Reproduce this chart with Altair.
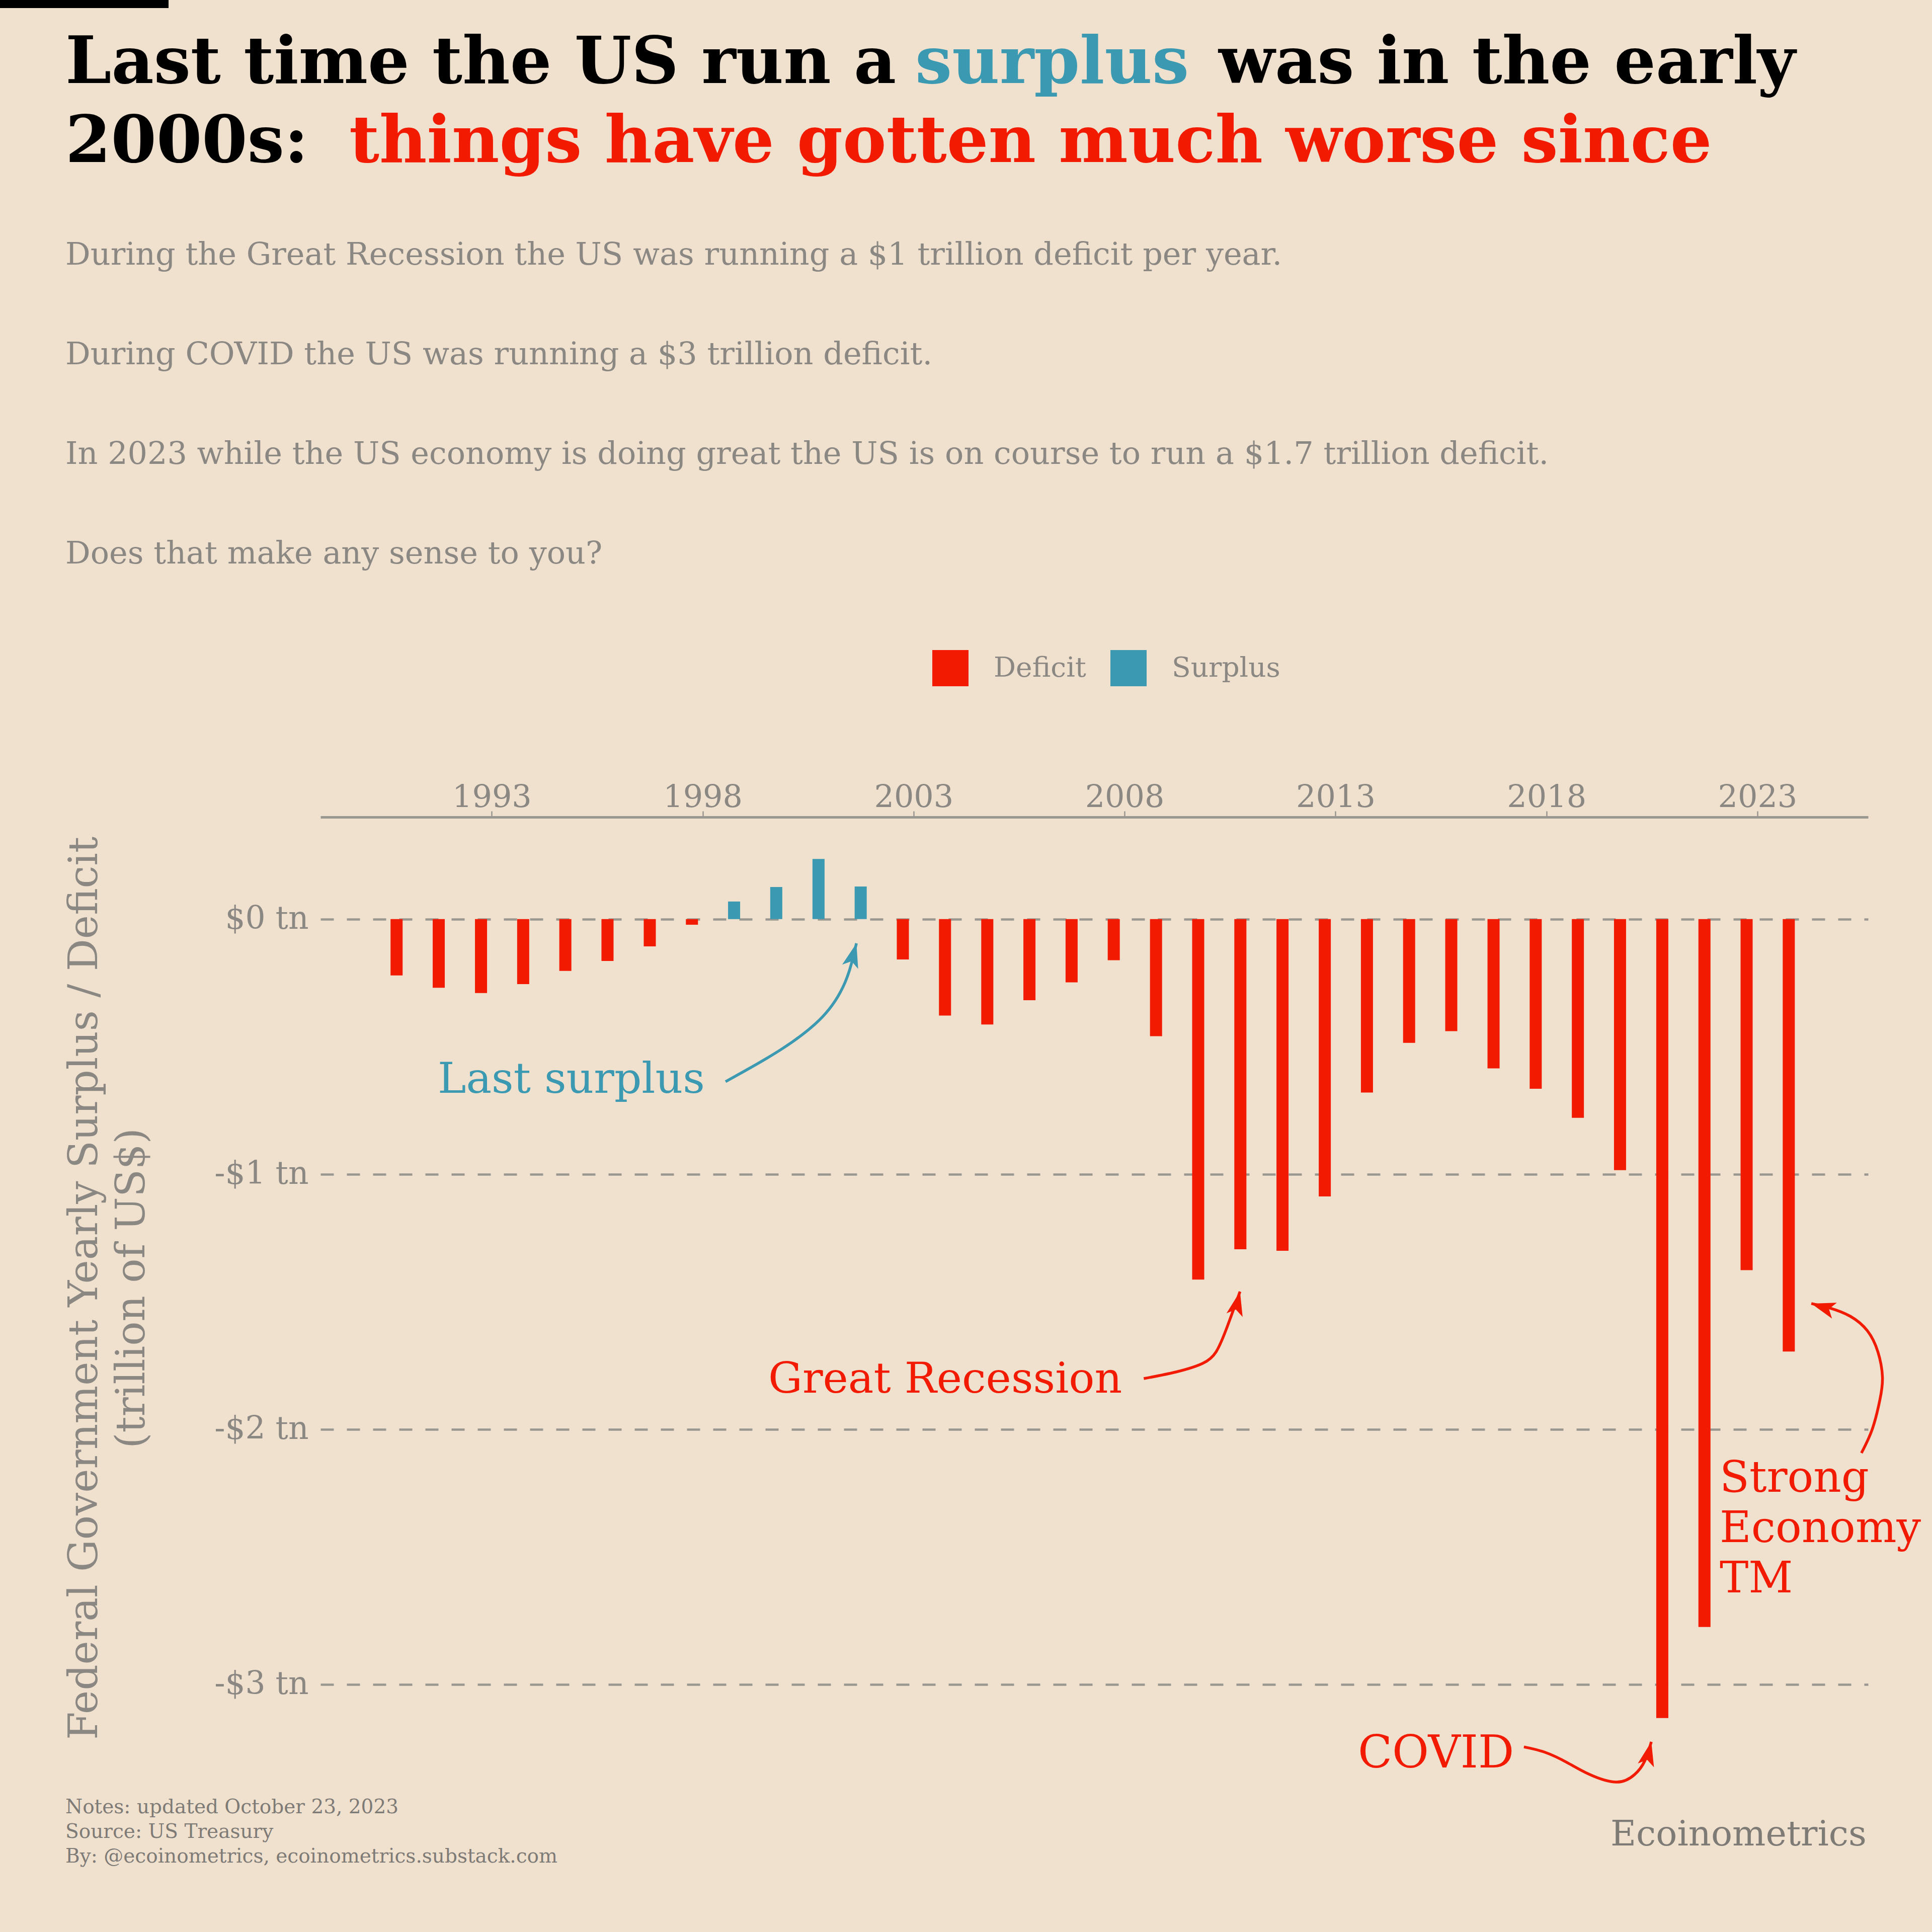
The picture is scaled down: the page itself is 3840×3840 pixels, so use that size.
import altair as alt
import pandas as pd

# ---------------- data ----------------
fiscal_years = list(range(1990, 2024))
balance_tn = [-0.221, -0.269, -0.290, -0.255, -0.203, -0.164, -0.107, -0.022,
              0.069, 0.126, 0.236, 0.128, -0.158, -0.378, -0.413, -0.318,
              -0.248, -0.161, -0.459, -1.413, -1.294, -1.300, -1.087, -0.680,
              -0.485, -0.439, -0.585, -0.665, -0.779, -0.984, -3.132, -2.775,
              -1.376, -1.695]
categories = ["Deficit", "Surplus"]
tick_years = [1993, 1998, 2003, 2008, 2013, 2018, 2023]
y_ticks = [0, -1, -2, -3]

# annotation arrows (control points in data space: date, trillion US$)
arrow_surplus_dates = ["1998-07-18", "2001-03-21", "2001-08-24"]
arrow_surplus_values = [-0.637, -0.391, -0.095]
arrow_recession_dates = ["2008-06-16", "2009-03-16", "2009-11-06", "2010-03-03", "2010-05-29", "2010-09-27"]
arrow_recession_values = [-1.801, -1.776, -1.742, -1.697, -1.610, -1.460]
arrow_covid_dates = ["2017-06-20", "2017-12-19", "2018-07-02", "2019-01-09", "2019-08-31",
                     "2020-02-04", "2020-05-01", "2020-06-27"]
arrow_covid_values = [-3.245, -3.266, -3.307, -3.353, -3.383, -3.353, -3.300, -3.225]
arrow_strong_dates = ["2025-06-20", "2025-09-23", "2025-11-27", "2025-12-19", "2025-11-10",
                      "2025-08-11", "2025-03-16", "2024-09-23", "2024-04-12"]
arrow_strong_values = [-2.093, -1.998, -1.884, -1.795, -1.697, -1.614, -1.557, -1.525, -1.507]

title_l1 = ["Last time the US run a", "surplus", "was in the early"]
title_l2 = ["2000s:", "things have gotten much worse since"]
subtitle = ["During the Great Recession the US was running a $1 trillion deficit per year.",
            "During COVID the US was running a $3 trillion deficit.",
            "In 2023 while the US economy is doing great the US is on course to run a $1.7 trillion deficit.",
            "Does that make any sense to you?"]
footer = ["Notes: updated October 23, 2023", "Source: US Treasury",
          "By: @ecoinometrics, ecoinometrics.substack.com"]

# ---------------- style ----------------
FONT = "DejaVu Serif"
RED = "#F21A00"
TEAL = "#3B9AB2"
BG = "#F0E0CE"
GRAY = "#8B8884"
GRAY_DARK = "#7E7B77"
GRID = "#9A9690"
OX, OY = 637, 1624          # plot origin inside the 3840x3840 canvas
PW, PH = 3076, 1876

bars = pd.DataFrame({
    "date": [f"{y}-09-30" for y in fiscal_years],
    "value": balance_tn,
    "type": ["Surplus" if v > 0 else "Deficit" for v in balance_tn],
})

xscale = alt.Scale(domain=[alt.DateTime(year=1989, month=1, date=1),
                           alt.DateTime(year=2025, month=7, date=26)])
yscale = alt.Scale(domain=[-3.3, 0.4], nice=False)

xaxis = alt.Axis(orient="top", values=[alt.DateTime(year=y, month=1, date=1) for y in tick_years],
                 format="%Y", title=None, grid=False, domain=True, domainColor=GRID,
                 domainWidth=5, ticks=True, tickSize=12, tickWidth=2.5, tickColor=GRID,
                 labelFont=FONT, labelFontSize=62, labelColor=GRAY, labelPadding=9,
                 labelBaseline="alphabetic", labelOverlap=False, labelLimit=1000)
yaxis = alt.Axis(values=y_ticks, grid=True, gridDash=[26, 26], gridColor=GRID, gridWidth=4.5,
                 domain=False, ticks=False, labelFont=FONT, labelFontSize=63, labelColor=GRAY,
                 labelPadding=24, labelLimit=1000,
                 labelExpr="datum.value == 0 ? '$0 tn' : '-$' + abs(datum.value) + ' tn'",
                 title=["Federal Government Yearly Surplus / Deficit", "(trillion of US$)"],
                 titleFont=FONT, titleFontSize=80, titleFontWeight="normal", titleColor=GRAY,
                 titleLineHeight=94, titleAngle=270, titleX=192 - OX, titleY=2560 - OY,
                 titleAlign="center", titleBaseline="alphabetic", titleLimit=4000)

X = alt.X("date:T", scale=xscale, axis=xaxis)
Y = alt.Y("value:Q", scale=yscale, axis=yaxis, stack=None)

bar_layer = alt.Chart(bars).mark_bar(size=24).encode(
    x=X, y=Y,
    color=alt.Color("type:N", scale=alt.Scale(domain=categories, range=[RED, TEAL]),
                    legend=alt.Legend(title=None, orient="none", legendX=1853 - OX, legendY=1292 - OY,
                                      direction="horizontal", symbolType="square", symbolSize=5184,
                                      symbolStrokeWidth=0, symbolOpacity=1, labelFont=FONT,
                                      labelFontSize=55, labelColor=GRAY, labelOffset=50,
                                      labelLimit=1000, columnPadding=48, padding=0)),
)

HEAD = "M0,0L0.65,1.9L0,1.45L-0.65,1.9Z"


def arrow(dates, values, color, angle, interp="natural"):
    d = pd.DataFrame({"date": dates, "value": values, "i": list(range(len(dates)))})
    line = alt.Chart(d).mark_line(color=color, strokeWidth=5.5, interpolate=interp).encode(
        x=X, y=Y, order="i:Q")
    head = alt.Chart(d.tail(1)).mark_point(shape=HEAD, size=2560, angle=angle, filled=True,
                                           color=color, opacity=1, strokeWidth=0).encode(x=X, y=Y)
    return [line, head]


one = pd.DataFrame({"k": [0]})


def txt(text, x, y, size, color, weight="normal", align="left", line_height=None):
    kw = dict(text=text, font=FONT, fontSize=size, color=color, fontWeight=weight,
              align=align, baseline="alphabetic")
    if line_height is not None:
        kw["lineHeight"] = line_height
    return alt.Chart(one).mark_text(**kw).encode(x=alt.value(x - OX), y=alt.value(y - OY))


layers = [bar_layer]
layers += arrow(arrow_surplus_dates, arrow_surplus_values, TEAL, 15, interp="basis")
layers += arrow(arrow_recession_dates, arrow_recession_values, RED, 13)
layers += arrow(arrow_covid_dates, arrow_covid_values, RED, 13)
layers += arrow(arrow_strong_dates, arrow_strong_values, RED, 287)

# annotation labels
layers.append(txt("Last surplus", 870, 2172, 85, TEAL))
layers.append(txt("Great Recession", 1527, 2768, 85, RED))
layers.append(txt("COVID", 2699, 3513, 89, RED))
layers.append(txt(["Strong", "Economy", "TM"], 3418, 2965, 86, RED, line_height=100))

# title
layers.append(txt(title_l1[0], 130, 165, 130, "#000000", "bold"))
layers.append(txt(title_l1[1], 1819, 165, 130, TEAL, "bold"))
layers.append(txt(title_l1[2], 2422, 165, 130, "#000000", "bold"))
layers.append(txt(title_l2[0], 130, 322, 130, "#000000", "bold"))
layers.append(txt(title_l2[1], 694, 322, 130, RED, "bold"))

# subtitle, footer, brand
layers.append(txt(subtitle, 130, 526, 62, GRAY, line_height=198))
layers.append(txt(footer, 130, 3604, 39, GRAY_DARK, line_height=49))
layers.append(txt("Ecoinometrics", 3710, 3668, 70, GRAY_DARK, align="right"))

# black tab at top-left
layers.append(alt.Chart(one).mark_rect(color="#000000").encode(
    x=alt.value(0 - OX), x2=alt.value(335 - OX), y=alt.value(0 - OY), y2=alt.value(16 - OY)))

chart = alt.layer(*layers).properties(
    width=PW, height=PH,
    padding={"left": OX, "top": OY, "right": 3840 - OX - PW, "bottom": 3840 - OY - PH},
    autosize=alt.AutoSizeParams(type="none"),
    background=BG,
).configure_view(stroke=None)

chart.save("out.html", embed_options={"renderer": "svg", "actions": False})
